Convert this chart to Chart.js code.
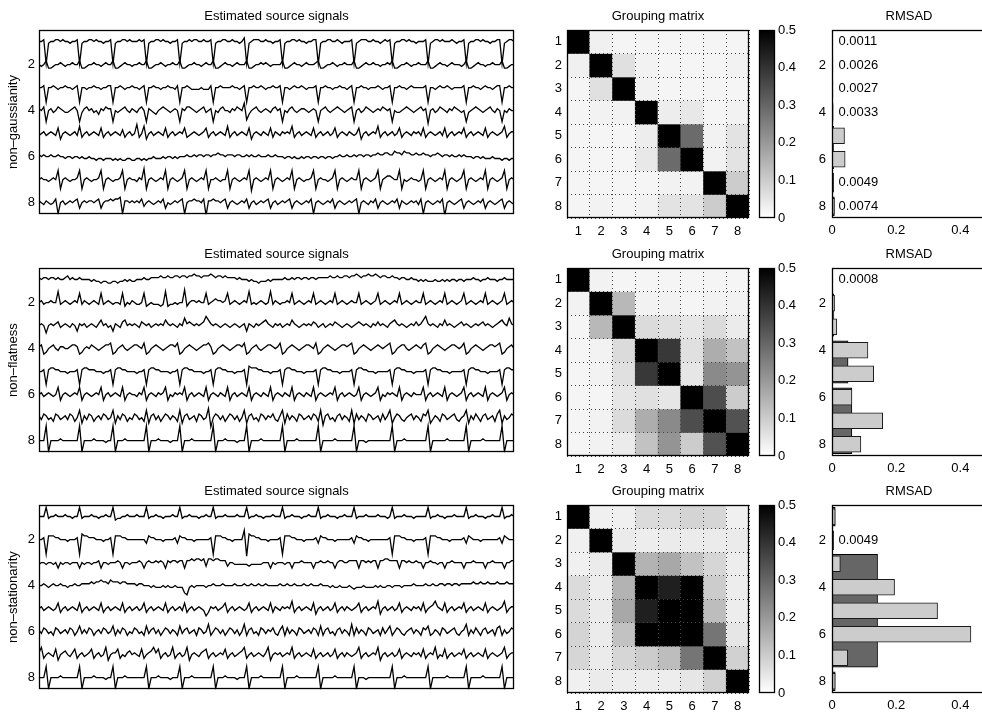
<!DOCTYPE html>
<html><head><meta charset="utf-8">
<script src="https://cdn.jsdelivr.net/npm/chart.js@4.4.0/dist/chart.umd.min.js"></script>
<style>
html,body{margin:0;padding:0;background:#fff;overflow:hidden;width:982px;height:713px;position:relative;}
canvas{position:absolute;}
</style></head><body>
<script>
// ---------------- DATA ----------------
const rowNames = ['non\u2013gaussianity', 'non\u2013flatness', 'non\u2013stationarity'];
const sigTitle = 'Estimated source signals';
const gmTitle = 'Grouping matrix';
const rmTitle = 'RMSAD';
const sigTicks = [2, 4, 6, 8];
const gmLabels = ['1', '2', '3', '4', '5', '6', '7', '8'];
const gmTicks = [1, 2, 3, 4, 5, 6, 7, 8];
const cbLimits = [0, 0.5];
const cbTicks = [0, 0.1, 0.2, 0.3, 0.4, 0.5];
const rmTicks = [0, 0.2, 0.4];
const rmMax = 0.48;
const rmTicksY = [2, 4, 6, 8];

// signal traces: one char per sample, 'm' = baseline, each letter step = STEP units (later letters = up)
const STEP = 0.08;
const ngSignals = [
"mmnalmmnnmnmmlmmnalm mnnmnmmlmmnalmmnnmnm mmnmnalmmnnmnmmlmmna lmmnmnnmmnmmnalmmnnm mnmmlmoalmnnnmmnmmlm mnalmmnnmnmmlmmnnalm mnnmmnmlmmmnalmnnnmm nmmlmnmnalmmnnmnmmlm mmnalmnnmnmmmnmlmmna lmmnnmnmmlmmnnalmnnm",
"mlmokklmmnmlmmnmmokk lmmnmmlmnmmokklmnmml mmnmmokklmmnmlmmnmmo kklmmnmmlmnmmokklmnm mlmnmmmokklmmnmnmlmm mmokklmnmmlmnmmmnokk lmmnmlmmnmmmokklmnmm nmmlmmnmokklmmnmlmmn mmmokklmnmmlmnmmmlmo kklmnmmlmmnmmmokklmm",
"mmnemmnmlmmnmmlmnemm lmmnmmlmmnnemmnmlmmn mmlmnemmnmmlmmnmmlne mmnmllllmlllnemmnmmm mnmmlmnemmnmmnmlmmnm mnemmlmnmmnmlmmmnemm nmmlmmnmmlmnemmnmmlm mmnmlmmnemmnmmlmnmmm mmnemmlmnmmnmlmmmmne mmnmmlmnmmlmnnemmnmm",
"nmogmnlmonmllmnomgln omnlmknmonngmlmnomln mlnomgnmlkmnonmlmnmg nmoonmlmnolmngmlnomm lnmonmqhkmnomlmnmlno mngmlnomlmnnmlmnmgmn omlmnonmlmnogmnlmonm lmnmonmngmllmnonmlmn omnfmnlmonmlnmonmlmg lmnonmlmnomlnmgmlnmm",
"lmnlmnmlpjmnmlmnlqkm nlmnmlpkmnlmnmlokmnl mrkmqjmnlmnmlpkmnlmn mpklmnmlmnpkmnlmnmlq kmnlmnmlpjmnmlnmlpkn mlnmnmqkmnlmnmlpkmnl mnlmpkmnmlnmlmpjmnlm nmqkmnlmnlmpkmnmlnmn lpkmnmlmnlpkmnlmnmpk mnlmnmlpkmnmlmnqkmnn",
"nmnmmnmmnmmlmmlmmlml lmllkllklllklklkkllk kllklkllmlllmlmmlmlm mmnmmnmnnmnnmnnonnmn nnmnnmmnmnmmnmmmnmmn mmmlmmlmllmlmmlmmlmm lmmlmmnmmnmmnmnnmnnm nnonnoonnpoonpoonnon nonnmnnonmnnmnmmnmnm mmlmmlmlllmlllkllkll",
"mnmmlmnmrhmnmlmmnrhm nmlmmnrhmnmlmmnrhmnm mlnmshmnmlmnmrhmnmlm nrhmnmlmnmrhmmnmlmmr hmnmlmnmrgmnmlmnmrhm nmlmnmrhmnmlmmnrhmnm mlmnrhmnmlmnmmrhmnml mnrhmnoonmmrhmlmnmml mrhmnmlmnmrhmnmlmnrh mnmlmnmrhmnmlmnrhmnm",
"nmlnmlmogmnlmnmnojmn mnnmnojmnnonoopgnnmn mnmokmnmlmnmojmlmnmn ogmnnonnmofnnonnmnoj mnmlmnmojmnlmnmnojmn lmnmnojmnmlmnmogmnml mnmojmnmlmnmnogmnmln mojmnmlmnmojnmlmnmnl ogmnmlmnmofmnmlmnojm nmlmnmojmnmlmnojmnml"
];
const nfSignals = [
"nmnnmnnmnmmnomnmmnmm mmlmllkllkkllkllmlml lmmmnmmnnnnonnonnoon oonoopoonoooponoonon nnnmnmmmlmllklllmlmm mmmnmmnmnnmnnmnnmnnn nnonnonnoonooponoopo oponoonnonnmnnmmnmml mlmlllmllmlmlmmlmmlm mmnmmlmmnmmmlmmnmmmm",
"mnlmmnmmslmnmlmnmrln mlmnmlrlmnmlmmlrkmln mllmrklmlllklskllmlm mtkmnnmnmmrlmnonnmnr lmnmlmnmslmlmnmlmsln mlmmnmrlmnmlmnmrlmnm lmnmrlmnmlmnmmrlmnml mnrlmnmlmnmrlmnmlmnm mrlmnmlmnmrlmnmlmnrl mnmlmnmrlmnmlmnrlmnm",
"mnmimnmnolmnmlnmjnmn lmnmlnpmnlmjnmlopmnm nmlonmnlmnmnmpnmnmln mqnonmnmnorpnmnmlmnm lmnmlmnjnmlnmnopnmln mnlmnmpnmlmnmnmonlmn lmnmonmlmnmlmnonmnml nmomnmlnopnmnmlmnmom nprnmnmlnmpmnmlmnomn mlmnmnomnmlmnopnmqnm",
"nojkmnomlnnmmnoonjkm nmonmlmnoopjkmnomlmn oonmpjkmnonmlmnoonpj kmnonmlmnoopnjkmnonm lmnoonpjkmnomlmnoonm npjkmnonmlmnoonmpjkm nonmlmnoonopjkmnonml mnonmnopjkmnoomlmnon mopjkmnonmlmnoonmnpj kmnonmlmnoonopjkmnom",
"mmnfnoonnmmmlmmmnfno onnnmmmlmmnfnoonnmmm mlmmnfnoonnmmmmlmmnf noonnmmmmlmmnfnoonnm mmlmmmnfpooonnmmmlmm mnfnoonnmmmlmmmmnfno onnmmmlmmmmnfnoonnmm mlmmmmmnfnoonnmmmlmm mmnfnoonnmmmlmmmmmnf noonnmmmlmmmmnfnoonn",
"mnlmnmlmqjmnmlmnmqjm nmlmnmqjmnlmnmlqjmnm mlnmqjmnmlnmnqjmlnmn mqjmnlmnmlqjmnmlnmlq jmnlmnmlqjmnmlnmlqjm nmlnmlqjmnmlnmlqjmnm lmnmqjmnlmnmlmqjmnml mnqjmlnmnmlqjmnmlnmm mqjmnlmnmlqjmnmlmnqj mnlmnmlqjmnmlmnqjmnm",
"nlonlmkonlmnlonkmqjn lonkmnlonlmqjnlonkml onlmkqjnolnkmonlnmkq jnolmnkonlmrhmonlnkm onlnkmqjnolmkonlnmol knqjolnmkonlmnlonkqi nolmknolnmkqjolnmkon lmnkolnqjmonlkmnolnm konqjlnmkonlmnolkmnq jnlomknolmnkoqjnlmon",
"mmmugmmmmnmmmmmmmugm mmmnmmmmlmmugmmmnmmm mmmmmugmmmnmmmmlmmmu gmmmnmmmmmmmmugmmmnm mmmlmmmugmmmmnmmmmmm mmugmmmmnmmmmmmmmugm mmmmnmmmmmmmugmmmlmm mmmmmmmmugmmmnmmmmmm mmmugmmmmmmnmmmmmmmu gmmmmmnmmmmmmmugmmmm"
];
const nsSignals = [
"mmmrlmmnmmmnmmlmmrlm mmnmmlmmnmmrkllmmnmm mnmmmrlmmnmmlmmmnmmr lmmnmmmlmmnmmrlmmmnm mmmnmmmrlmmnmmlmmmnm mmrlmmnmmmlmmnmmmrlm mnmmmlmmnmmmrlmmmnmm mmnmmmlmrlmmmnmmmlmm mmmrlmmnmmlmmmnmmmmr lmmnmmmlmmnmmmrlmmnm",
"mmneooonnmmmlmmmnepo onnnmmmlmmneooonnmmm mmmmmkonnmmmlmmmmnko nnmmmlmmmmmmneooonnm mlmmmmrdpoonnmmmlmmm mneooonnmmmlmmmmnkon nmmmlmmmmmmnkonnmmlm mmmmmmmneooonnmmmlmm mmneooonnmmmlmmmmmnk onmmmlmmmmmmmnkonmmm",
"lmmlmmlmjmlmmlmmmjml mmlmmnjmmlmmmnmjmmlm mmnmjmnmmnmnmjnmnnmn njnnonoonokoonoonnnk mmllllllklllllmmmjml mmmlmmjmmmnmmmmjmmnm mnmmjmnnmmnnnnjnnmnm nnjnnoonnnnjnnmnmmnm mjmmnmmlmmjmmnmmmmjm mmnmmmmjmmnmmmmjmmnn",
"mmnmlmnmmnmmlmmnmmnn nnonoopoonpooonoonnn nmnnmmmlmlllmlmllmll lihlmlmmmmlmmnmmmnmm mmnmmmnmmnmmnmmnmmmm mnmmnmmnmmmnmmnmmmnm mmlmllmlllmlklllmlll lmlmllmmlmmmlmmmmnmm mmnmmnmmnnmnnmnnmnnn nnonnonnonnnonnnonnn",
"mnlmnmlmpkmnlmnmlpkm nlmnmlpkmnlmnmlpkmnl mnlmpkmnlmnmlpkmnlmn lpkmnlmnmliknmnlmnpk mnlmnmlmpkmnlmnmlpkn mlnmnmqkmnlmnmlpjmnl mnlmpkmnlnmlmnpkmnlm nmqjmnlmnlmpkmnmlnmn lpkmnoqnmlpkmnlmnmpk mnlmnmlpkmnmlmnqkmnn",
"nlonlmkonlmnlonkmpln lonkmnlonlmpknlonkml onlmkplnolnkmonlnmkp lnolmnkonlmqkmonlnkm onlnkmqknolmkonlnmol knpkolnmkonlmnlonkpk nolmknolnmkqkolnmkon lmnkolnpkmonlkmnolnm konpklnmkonlmnolkmnq knlomknolmnkopknlmon",
"nqkmnmlpjmnomlnpkmnl mnpkmnlmqjmnnpkmlnom nmlpkmnoqnpkmnlmqkmn lmqjmnmlnopkmnlmnmpk mnlmnoqkmnlmnmlnqjmn mnlmnmqkmnlmnmlpkmnl mnlmpkmnlnmlmnqkmnlm nmqjmnlmnlmpkmnmlnmn lpkmnmqkmlpkmnlmnmpk mnlmnmlpkmnmlmnqkmnn",
"mmmsgmmmmnmmmmmmmsgm mmmnmmmmlmmsgmmmnmmm mmmmmsgmmmnmmmmlmmms gmmmnmmmmmmmmsgmmmnm mmmlmmmsgmmmmnmmmmmm mmsgmmmmnmmmmmmmmsgm mmmmnmmmmmmmsgmmmlmm mmmmmmmmsgmmmnmmmmmm mmmsgmmmmmmnmmmmmmms gmmmmmnmmmmmmmsgmmmm"
];

// grouping matrices
const ngMatrix = [
  [0.50, 0.030, 0.020, 0.020, 0.020, 0.020, 0.020, 0.020],
  [0.030, 0.50, 0.060, 0.025, 0.020, 0.020, 0.020, 0.025],
  [0.020, 0.060, 0.50, 0.025, 0.020, 0.020, 0.020, 0.020],
  [0.020, 0.025, 0.025, 0.50, 0.035, 0.045, 0.020, 0.025],
  [0.020, 0.020, 0.020, 0.035, 0.50, 0.29, 0.025, 0.055],
  [0.020, 0.020, 0.020, 0.045, 0.29, 0.50, 0.025, 0.055],
  [0.020, 0.020, 0.020, 0.020, 0.025, 0.025, 0.50, 0.10],
  [0.020, 0.025, 0.020, 0.025, 0.055, 0.055, 0.10, 0.50]
];
const nfMatrix = [
  [0.50, 0.025, 0.020, 0.020, 0.020, 0.020, 0.020, 0.020],
  [0.025, 0.50, 0.14, 0.025, 0.025, 0.020, 0.025, 0.025],
  [0.020, 0.14, 0.50, 0.070, 0.060, 0.050, 0.070, 0.040],
  [0.020, 0.025, 0.070, 0.50, 0.39, 0.060, 0.16, 0.12],
  [0.020, 0.025, 0.060, 0.39, 0.50, 0.050, 0.23, 0.21],
  [0.020, 0.020, 0.050, 0.060, 0.050, 0.50, 0.35, 0.10],
  [0.020, 0.025, 0.070, 0.16, 0.23, 0.35, 0.50, 0.34],
  [0.020, 0.025, 0.040, 0.12, 0.21, 0.10, 0.34, 0.50]
];
const nsMatrix = [
  [0.50, 0.030, 0.030, 0.070, 0.070, 0.085, 0.080, 0.030],
  [0.030, 0.50, 0.040, 0.035, 0.040, 0.040, 0.040, 0.040],
  [0.030, 0.040, 0.50, 0.15, 0.17, 0.12, 0.080, 0.035],
  [0.070, 0.035, 0.15, 0.50, 0.44, 0.50, 0.10, 0.035],
  [0.070, 0.040, 0.17, 0.44, 0.50, 0.50, 0.13, 0.035],
  [0.085, 0.040, 0.12, 0.50, 0.50, 0.50, 0.27, 0.050],
  [0.080, 0.040, 0.080, 0.10, 0.13, 0.27, 0.50, 0.090],
  [0.030, 0.040, 0.035, 0.035, 0.035, 0.050, 0.090, 0.50]
];

// RMSAD: per-component (light) and per-group (dark) values
const ngRmsad = [0.0011, 0.0026, 0.0027, 0.0033, 0.039, 0.041, 0.0049, 0.0074];
const ngGroups = [[1], [2], [3], [4], [5, 6], [7], [8]];
const ngGroupVals = [0.0011, 0.0026, 0.0027, 0.0033, 0.005, 0.0049, 0.0074];
const ngLabelRows = [1, 2, 3, 4, 7, 8];
const ngLabelTexts = ['0.0011', '0.0026', '0.0027', '0.0033', '0.0049', '0.0074'];

const nfRmsad = [0.0008, 0.008, 0.015, 0.112, 0.130, 0.062, 0.158, 0.090];
const nfGroups = [[1], [2, 3], [4, 5], [6, 7, 8]];
const nfGroupVals = [0.0008, 0.006, 0.050, 0.062];
const nfLabelRows = [1];
const nfLabelTexts = ['0.0008'];

const nsRmsad = [0.010, 0.0049, 0.026, 0.195, 0.329, 0.433, 0.049, 0.010];
const nsGroups = [[1], [2], [3, 4, 5, 6, 7], [8]];
const nsGroupVals = [0.010, 0.0049, 0.142, 0.010];
const nsLabelRows = [2];
const nsLabelTexts = ['0.0049'];

// ---------------- LAYOUT / STYLE ----------------
const ROW_TOP = [30, 268, 505];
const PLOT_H = 188;
const FS = 13;
const FONT = "'Liberation Sans', Arial, Helvetica, sans-serif";
Chart.defaults.font.family = FONT;
Chart.defaults.font.size = FS;
Chart.defaults.color = '#000';
Chart.defaults.animation = false;

const rowData = [
  { name: rowNames[0], sig: ngSignals, mat: ngMatrix, light: ngRmsad, groups: ngGroups, gvals: ngGroupVals, lrows: ngLabelRows, ltexts: ngLabelTexts },
  { name: rowNames[1], sig: nfSignals, mat: nfMatrix, light: nfRmsad, groups: nfGroups, gvals: nfGroupVals, lrows: nfLabelRows, ltexts: nfLabelTexts },
  { name: rowNames[2], sig: nsSignals, mat: nsMatrix, light: nsRmsad, groups: nsGroups, gvals: nsGroupVals, lrows: nsLabelRows, ltexts: nsLabelTexts }
];

function decodeTrace(str, k) {
  const chars = str.replace(/\s+/g, '').split('');
  const n = chars.length - 1;
  return chars.map((c, i) => ({ x: i / n, y: k - (c.charCodeAt(0) - 109) * STEP }));
}
function grayOf(v) {
  const t = Math.max(0, Math.min(1, (v - cbLimits[0]) / (cbLimits[1] - cbLimits[0])));
  const g = Math.round(255 * (1 - t));
  return 'rgb(' + g + ',' + g + ',' + g + ')';
}
function makeCanvas(left, top, w, h) {
  const c = document.createElement('canvas');
  c.width = w; c.height = h;
  c.style.left = left + 'px'; c.style.top = top + 'px';
  c.style.width = w + 'px'; c.style.height = h + 'px';
  document.body.appendChild(c);
  return c;
}
const boxPlugin = {
  id: 'box',
  afterDraw(chart) {
    const a = chart.chartArea, c = chart.ctx;
    const l = Math.round(a.left), t = Math.round(a.top), r = Math.round(a.right), b = Math.round(a.bottom);
    c.save(); c.strokeStyle = '#000'; c.lineWidth = 1.3;
    c.strokeRect(l + 0.5, t + 0.5, r - l - 1, b - t - 1);
    c.restore();
  }
};
const labelPlugin = {
  id: 'rmLabels',
  afterDatasetsDraw(chart, args, opts) {
    if (!opts || !opts.rows) return;
    const c = chart.ctx, x = chart.scales.x, y = chart.scales.y;
    c.save(); c.font = FS + 'px ' + FONT; c.fillStyle = '#000'; c.textBaseline = 'middle'; c.textAlign = 'left';
    opts.rows.forEach((r, i) => c.fillText(opts.texts[i], x.getPixelForValue(0.02), y.getPixelForValue(r)));
    c.restore();
  }
};
const setTicks = arr => s => { s.ticks = arr.map(v => ({ value: v })); };
const titleOpts = text => ({ display: true, text, fullSize: false, padding: { top: 3, bottom: 5.4 }, font: { size: FS, weight: 'normal' }, color: '#000' });
const basePlugins = { legend: { display: false }, tooltip: { enabled: false } };
const noGrid = { display: false, drawTicks: false };

rowData.forEach((rd, r) => {
  const T = ROW_TOP[r];

  // --- signals ---
  new Chart(makeCanvas(0, T - 24, 520, PLOT_H + 32), {
    type: 'line',
    data: { datasets: rd.sig.map((s, k) => ({ data: decodeTrace(s, k + 1), borderColor: '#000', borderWidth: 1.3, pointRadius: 0, tension: 0 })) },
    options: {
      responsive: false, events: [],
      layout: { padding: { left: 0, right: 6, top: 0, bottom: 8 } },
      plugins: Object.assign({}, basePlugins, { title: titleOpts(sigTitle) }),
      scales: {
        x: { type: 'linear', min: 0, max: 1, display: false },
        y: {
          type: 'linear', min: 0.5, max: 8.5, reverse: true,
          afterBuildTicks: setTicks(sigTicks), afterFit: s => { s.width = 39; },
          grid: noGrid, border: { display: false },
          ticks: { padding: 4, color: '#000', font: { size: FS } },
          title: { display: true, text: rd.name, padding: { top: 6, bottom: 0 }, font: { size: FS }, color: '#000' }
        }
      }
    },
    plugins: [boxPlugin]
  });

  // --- grouping matrix ---
  new Chart(makeCanvas(545, T - 24, 210, PLOT_H + 48), {
    type: 'bar',
    data: {
      labels: gmLabels,
      datasets: rd.mat.map((row, i) => ({
        data: row.map(() => [gmTicks[i] - 0.5, gmTicks[i] + 0.5]),
        backgroundColor: row.map(v => grayOf(v)),
        borderWidth: 0, barPercentage: 1, categoryPercentage: 1, grouped: false
      }))
    },
    options: {
      responsive: false, events: [],
      layout: { padding: { left: 0, right: 6, top: 0, bottom: 0 } },
      plugins: Object.assign({}, basePlugins, { title: titleOpts(gmTitle) }),
      scales: {
        x: {
          type: 'category', offset: true, afterFit: s => { s.height = 24; },
          grid: { display: true, offset: true, color: '#444', lineWidth: 1, drawTicks: false, z: 1 },
          border: { display: false, dash: [1, 3] },
          ticks: { padding: 6, color: '#000', font: { size: FS } }
        },
        y: {
          type: 'linear', min: 0.5, max: 8.5, reverse: true, offset: false,
          afterBuildTicks: setTicks(gmTicks), afterFit: s => { s.width = 22; },
          grid: { display: true, offset: true, color: '#444', lineWidth: 1, drawTicks: false, z: 1 },
          border: { display: false, dash: [1, 3] },
          ticks: { padding: 5, color: '#000', font: { size: FS } }
        }
      }
    },
    plugins: [boxPlugin]
  });

  // --- colorbar ---
  new Chart(makeCanvas(755, T - 24, 50, PLOT_H + 48), {
    type: 'bar',
    data: {
      labels: ['c'],
      datasets: [{
        data: [[cbLimits[0], cbLimits[1]]],
        backgroundColor: ctx => {
          const a = ctx.chart.chartArea;
          if (!a) return '#888';
          const g = ctx.chart.ctx.createLinearGradient(0, a.bottom, 0, a.top);
          g.addColorStop(0, grayOf(cbLimits[0])); g.addColorStop(1, grayOf(cbLimits[1]));
          return g;
        },
        borderWidth: 0, barPercentage: 1, categoryPercentage: 1
      }]
    },
    options: {
      responsive: false, events: [],
      layout: { padding: { left: 4, right: 0, top: 24, bottom: 24 } },
      plugins: basePlugins,
      scales: {
        x: { type: 'category', display: false },
        y: {
          type: 'linear', position: 'right', min: cbLimits[0], max: cbLimits[1],
          afterBuildTicks: setTicks(cbTicks), afterFit: s => { s.width = 30; },
          grid: noGrid, border: { display: false },
          ticks: { padding: 3, color: '#000', font: { size: FS } }
        }
      }
    },
    plugins: [boxPlugin]
  });

  // --- RMSAD ---
  const rmChart = new Chart(makeCanvas(800, T - 24, 220, PLOT_H + 48), {
    type: 'bar',
    data: {
      datasets: [
        { data: rd.light.map((v, i) => ({ y: gmTicks[i], x: v })), backgroundColor: '#cccccc', borderColor: '#1a1a1a', borderWidth: 1, borderSkipped: false, grouped: false, order: 1, barThickness: 16, rowSpan: 0.68 }
      ].concat(rd.groups.map((g, gi) => ({
        data: [{ y: (g[0] + g[g.length - 1]) / 2, x: rd.gvals[gi] }],
        backgroundColor: '#666666', borderColor: '#000', borderWidth: 1, borderSkipped: false, grouped: false, order: 2,
        barThickness: 20, rowSpan: g.length - 0.2
      })))
    },
    options: {
      indexAxis: 'y', responsive: false, events: [],
      layout: { padding: { left: 0, right: 34, top: 0, bottom: 0 } },
      plugins: Object.assign({}, basePlugins, { title: titleOpts(rmTitle), rmLabels: { rows: rd.lrows, texts: rd.ltexts } }),
      scales: {
        x: {
          type: 'linear', min: 0, max: rmMax, offset: false,
          afterBuildTicks: setTicks(rmTicks), afterFit: s => { s.height = 24; },
          grid: noGrid, border: { display: false },
          ticks: { padding: 5, color: '#000', font: { size: FS } }
        },
        y: {
          type: 'linear', min: 0.5, max: 8.5, reverse: true, offset: false,
          afterBuildTicks: setTicks(rmTicksY), afterFit: s => { s.width = 32; },
          grid: { display: false, drawTicks: false, offset: false }, border: { display: false },
          ticks: { padding: 6, color: '#000', font: { size: FS } }
        }
      }
    },
    plugins: [boxPlugin, labelPlugin]
  });
  const ys = rmChart.scales.y;
  const rowPx = Math.abs(ys.getPixelForValue(2) - ys.getPixelForValue(1));
  rmChart.data.datasets.forEach(d => { d.barThickness = d.rowSpan * rowPx; });
  rmChart.update('none');
});
</script>
</body></html>
